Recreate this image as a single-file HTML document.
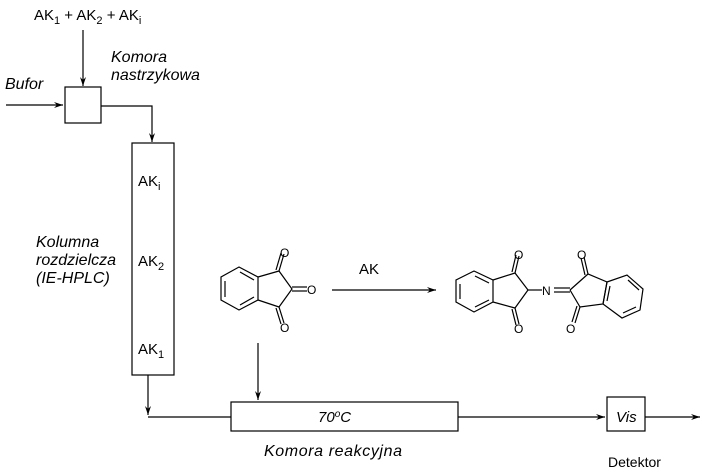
<!DOCTYPE html>
<html><head><meta charset="utf-8"><style>
html,body{margin:0;padding:0;background:#fff}
svg{display:block;font-family:"Liberation Sans",sans-serif}
</style></head><body>
<svg width="703" height="473" viewBox="0 0 703 473" xmlns="http://www.w3.org/2000/svg">
<defs><marker id="a" markerWidth="10" markerHeight="8" refX="9" refY="4" orient="auto" markerUnits="userSpaceOnUse"><path d="M0,1 L9,4 L0,7 L3,4z" fill="#000"/></marker></defs>
<g stroke="#000" stroke-width="1.2" fill="none">
<line x1="83" y1="30" x2="83" y2="86" marker-end="url(#a)"/>
<line x1="6" y1="105" x2="63" y2="105" marker-end="url(#a)"/>
<rect x="65" y="87" width="36" height="36"/>
<polyline points="101,106 152,106 152,142" marker-end="url(#a)"/>
<rect x="132" y="143" width="42" height="232"/>
<line x1="148" y1="375" x2="148" y2="415" marker-end="url(#a)"/>
<line x1="148" y1="417" x2="231" y2="417"/>
<line x1="258" y1="343" x2="258" y2="400" marker-end="url(#a)"/>
<rect x="231" y="402" width="227" height="29"/>
<line x1="458" y1="417" x2="605" y2="417" marker-end="url(#a)"/>
<rect x="607" y="397" width="38" height="34"/>
<line x1="645" y1="417" x2="700" y2="417" marker-end="url(#a)"/>
<line x1="332" y1="290" x2="436" y2="290" marker-end="url(#a)"/>
<polygon points="239,267 258,277 258,300 239,310 221,300 221,277"/>
<line x1="225" y1="281" x2="225" y2="297"/><line x1="240" y1="272" x2="254" y2="280"/><line x1="240" y1="305" x2="254" y2="297"/>
<polyline points="258,277 279,271 292,289 279,307 258,300"/>
<line x1="279" y1="271" x2="284" y2="254"/><line x1="276" y1="270" x2="281" y2="253"/>
<line x1="279" y1="307" x2="284" y2="323"/><line x1="276" y1="308" x2="281" y2="324"/>
<line x1="292" y1="287" x2="307" y2="287"/><line x1="292" y1="291" x2="307" y2="291"/>
<polygon points="474,271 493,280 493,302 474,312 456,302 456,280"/>
<line x1="460" y1="284" x2="460" y2="299"/><line x1="475" y1="276" x2="489" y2="283"/><line x1="475" y1="307" x2="489" y2="300"/>
<polyline points="493,280 515,273 528,290 515,308 493,302"/>
<line x1="515" y1="273" x2="519" y2="256"/><line x1="512" y1="272" x2="516" y2="255"/>
<line x1="515" y1="308" x2="519" y2="324"/><line x1="512" y1="309" x2="516" y2="325"/>
<line x1="528" y1="290" x2="542" y2="290"/>
<line x1="554" y1="288" x2="570" y2="288"/><line x1="554" y1="292" x2="570" y2="292"/>
<polyline points="570,290 588,274 607,282 603,304 580,307 570,290"/>
<line x1="588" y1="274" x2="584" y2="257"/><line x1="585" y1="275" x2="581" y2="258"/>
<line x1="580" y1="307" x2="575" y2="323"/><line x1="577" y1="306" x2="572" y2="322"/>
<polygon points="607,282 627,275 643,289 640,310 622,318 603,304"/>
<line x1="610" y1="286" x2="607" y2="301"/><line x1="628" y1="280" x2="639" y2="290"/><line x1="623" y1="313" x2="636" y2="307"/>
</g>
<g font-size="15" fill="#000">
<text x="34" y="20">AK<tspan font-size="11" dy="4">1</tspan><tspan dy="-4"> + AK</tspan><tspan font-size="11" dy="4">2</tspan><tspan dy="-4"> + AK</tspan><tspan font-size="11" dy="4">i</tspan></text>
<text x="5" y="89" font-style="italic" font-size="16">Bufor</text>
<text x="111" y="62" font-style="italic" font-size="16">Komora</text>
<text x="111" y="80" font-style="italic" font-size="16">nastrzykowa</text>
<text x="138" y="186">AK<tspan font-size="11" dy="4">i</tspan></text>
<text x="138" y="266">AK<tspan font-size="11" dy="4">2</tspan></text>
<text x="138" y="354">AK<tspan font-size="11" dy="4">1</tspan></text>
<text x="36" y="247" font-style="italic" font-size="16">Kolumna</text>
<text x="36" y="265" font-style="italic" font-size="16">rozdzielcza</text>
<text x="36" y="283" font-style="italic" font-size="16">(IE-HPLC)</text>
<text x="359" y="274">AK</text>
<text x="318" y="422" font-style="italic">70<tspan font-size="10" dy="-5">o</tspan><tspan dy="5">C</tspan></text>
<text x="264" y="456" font-style="italic" font-size="16" textLength="138">Komora reakcyjna</text>
<text x="616" y="422" font-style="italic">Vis</text>
<text x="608" y="467" font-size="14">Detektor</text>
<g font-size="12">
<text x="280" y="257">O</text><text x="280" y="332">O</text><text x="307" y="294">O</text>
<text x="514" y="259">O</text><text x="514" y="333">O</text><text x="542" y="295">N</text>
<text x="577" y="259">O</text><text x="566" y="333">O</text>
</g>
</g>
</svg>
</body></html>
